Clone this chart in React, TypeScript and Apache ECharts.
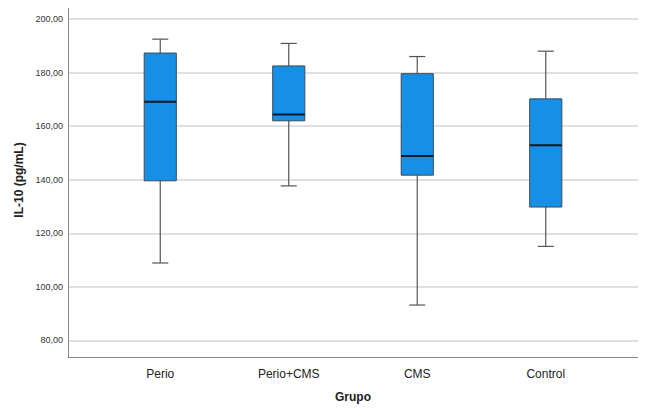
import React, { useEffect, useRef } from "react";
import * as echarts from "echarts";

const categories = ["Perio", "Perio+CMS", "CMS", "Control"];
// [lower whisker, Q1, median, Q3, upper whisker]
const lowerWhisker = [108.9, 137.7, 93.2, 115.1];
const q1 = [139.6, 162.0, 141.7, 129.8];
const median = [169.1, 164.4, 148.9, 152.9];
const q3 = [187.3, 182.5, 179.6, 170.2];
const upperWhisker = [192.5, 190.9, 186.0, 188.0];
const yTicks = [80, 100, 120, 140, 160, 180, 200];

const Y_MIN = 73.8;
const Y_MAX = 206;

export default function App() {
  const ref = useRef<HTMLDivElement>(null);
  useEffect(() => {
    if (!ref.current) return;
    const chart = echarts.init(ref.current, null, { renderer: "svg" });
    const data = categories.map((_, i) => [
      i,
      lowerWhisker[i],
      q1[i],
      median[i],
      q3[i],
      upperWhisker[i],
    ]);
    const font = "'Liberation Sans', Arial, sans-serif";
    chart.setOption({
      animation: false,
      backgroundColor: "#ffffff",
      grid: [
        { left: 68, right: 7, top: 3, bottom: 55 },
        { left: 96, right: 36, top: 3, bottom: 55 },
      ],
      xAxis: [
        {
          type: "value",
          gridIndex: 0,
          min: 0,
          max: 1,
          axisLine: { show: true, onZero: false, lineStyle: { color: "#8a8a8a", width: 1 } },
          axisTick: { show: false },
          axisLabel: { show: false },
          splitLine: { show: false },
        },
        {
          type: "category",
          gridIndex: 1,
          data: categories,
          boundaryGap: true,
          axisLine: { show: false },
          axisTick: { show: false },
          splitLine: { show: false },
          axisLabel: {
            color: "#222",
            fontSize: 12,
            fontFamily: font,
            margin: 11,
          },
          name: "Grupo",
          nameLocation: "middle",
          nameGap: 34,
          nameTextStyle: {
            color: "#222",
            fontSize: 12,
            fontWeight: "bold",
            fontFamily: font,
          },
        },
      ],
      yAxis: [
        {
          type: "value",
          gridIndex: 0,
          min: Y_MIN,
          max: Y_MAX,
          axisLine: { show: true, lineStyle: { color: "#8a8a8a", width: 1 } },
          axisTick: { show: false },
          splitLine: { show: false },
          axisLabel: {
            customValues: yTicks,
            formatter: (v: number) => v.toFixed(2).replace(".", ","),
            color: "#333",
            fontSize: 9,
            fontFamily: font,
            margin: 5,
          },
          name: "IL-10 (pg/mL)",
          nameLocation: "middle",
          nameGap: 42,
          nameRotate: 90,
          nameTextStyle: {
            color: "#222",
            fontSize: 12,
            fontWeight: "bold",
            fontFamily: font,
          },
        },
        {
          type: "value",
          gridIndex: 1,
          min: Y_MIN,
          max: Y_MAX,
          show: false,
          splitLine: { show: false },
        },
      ],
      series: [
        {
          type: "line",
          xAxisIndex: 0,
          yAxisIndex: 0,
          data: [],
          silent: true,
          z: 0,
          markLine: {
            silent: true,
            z: 0,
            symbol: "none",
            label: { show: false },
            lineStyle: { color: "#d6d6d6", width: 1.5, type: "solid" },
            data: yTicks.map((v) => ({ yAxis: v })),
          },
        },
        {
          type: "custom",
          xAxisIndex: 1,
          yAxisIndex: 1,
          z: 10,
          data,
          renderItem: (params: any, api: any) => {
            const x = api.value(0);
            const band = api.size([1, 0])[0];
            const boxW = band * 0.25;
            const capW = band * 0.125;
            const pLow = api.coord([x, api.value(1)]);
            const pQ1 = api.coord([x, api.value(2)]);
            const pMed = api.coord([x, api.value(3)]);
            const pQ3 = api.coord([x, api.value(4)]);
            const pHigh = api.coord([x, api.value(5)]);
            const cx = pLow[0];
            const whiskerStyle = { stroke: "#555555", lineWidth: 1.2 };
            return {
              type: "group",
              children: [
                {
                  type: "line",
                  shape: { x1: cx, y1: pHigh[1], x2: cx, y2: pQ3[1] },
                  style: whiskerStyle,
                },
                {
                  type: "line",
                  shape: { x1: cx, y1: pQ1[1], x2: cx, y2: pLow[1] },
                  style: whiskerStyle,
                },
                {
                  type: "line",
                  shape: { x1: cx - capW / 2, y1: pHigh[1], x2: cx + capW / 2, y2: pHigh[1] },
                  style: whiskerStyle,
                },
                {
                  type: "line",
                  shape: { x1: cx - capW / 2, y1: pLow[1], x2: cx + capW / 2, y2: pLow[1] },
                  style: whiskerStyle,
                },
                {
                  type: "rect",
                  shape: {
                    x: cx - boxW / 2,
                    y: pQ3[1],
                    width: boxW,
                    height: pQ1[1] - pQ3[1],
                  },
                  style: { fill: "#1590e6", stroke: "#3a4a58", lineWidth: 1 },
                },
                {
                  type: "line",
                  shape: { x1: cx - boxW / 2, y1: pMed[1], x2: cx + boxW / 2, y2: pMed[1] },
                  style: { stroke: "#0b1a26", lineWidth: 2 },
                },
              ],
            };
          },
        },
      ],
    });
    return () => chart.dispose();
  }, []);
  return <div ref={ref} style={{ width: 646, height: 412, margin: -8 }} />;
}
